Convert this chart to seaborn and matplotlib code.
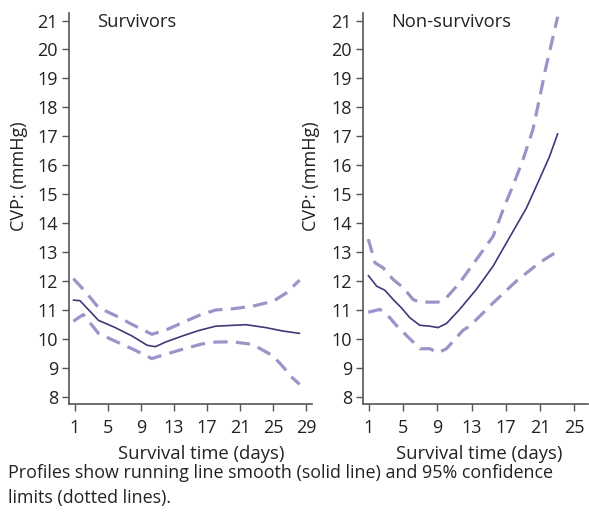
import matplotlib
matplotlib.use("Agg")
import matplotlib.pyplot as plt
import seaborn as sns
import pandas as pd

# Survivors
surv_mean_day = [0.8, 1.6, 3.84, 5.87, 7.9, 9.73, 10.74, 11.96, 14.0, 16.0, 18.05, 21.7, 24.1, 26.2, 28.2]
surv_mean_cvp = [11.34, 11.32, 10.64, 10.39, 10.1, 9.78, 9.73, 9.89, 10.1, 10.29, 10.44, 10.49, 10.39, 10.27, 10.19]
surv_up_day = [0.8, 2.2, 3.84, 5.87, 7.9, 10.3, 11.96, 14.0, 16.0, 18.05, 20.1, 22.5, 25.0, 26.6, 28.2]
surv_up_cvp = [12.08, 11.65, 11.08, 10.81, 10.5, 10.16, 10.3, 10.56, 10.81, 11.0, 11.04, 11.13, 11.3, 11.59, 12.03]
surv_lo_day = [0.8, 2.0, 3.84, 5.87, 7.9, 10.3, 12.0, 14.0, 16.3, 18.05, 20.1, 22.5, 25.0, 26.3, 27.3, 28.2]
surv_lo_cvp = [10.61, 10.84, 10.19, 9.92, 9.66, 9.32, 9.47, 9.64, 9.82, 9.89, 9.9, 9.81, 9.41, 9.0, 8.66, 8.43]

# Non-survivors
non_mean_day = [0.92, 1.9, 2.86, 3.83, 4.8, 5.78, 6.94, 8.1, 9.07, 10.05, 11.6, 13.55, 15.5, 17.4, 19.4, 20.9, 22.1, 23.06]
non_mean_cvp = [12.19, 11.82, 11.68, 11.36, 11.07, 10.73, 10.47, 10.44, 10.39, 10.53, 11.02, 11.71, 12.51, 13.49, 14.52, 15.5, 16.3, 17.09]
non_up_day = [0.92, 1.7, 2.67, 3.83, 5.0, 6.16, 6.94, 9.07, 10.05, 11.6, 13.55, 15.5, 16.85, 17.8, 19.0, 20.15, 20.9, 21.7, 23.06]
non_up_cvp = [13.45, 12.63, 12.45, 12.05, 11.77, 11.36, 11.27, 11.27, 11.42, 11.94, 12.74, 13.54, 14.6, 15.27, 16.19, 17.22, 18.26, 19.41, 21.13]
non_lo_day = [0.92, 2.28, 3.25, 4.22, 5.2, 6.17, 6.94, 8.1, 9.08, 10.05, 12.0, 12.77, 15.5, 18.2, 20.9, 23.06]
non_lo_cvp = [10.92, 11.02, 10.79, 10.46, 10.17, 9.89, 9.66, 9.66, 9.52, 9.66, 10.3, 10.44, 11.24, 11.99, 12.63, 13.03]

panel_titles = ["Survivors", "Non-survivors"]
y_ticks = list(range(8, 22))
x_ticks_surv = [1, 5, 9, 13, 17, 21, 25, 29]
x_ticks_non = [1, 5, 9, 13, 17, 21, 25]

sns.set_style("white")
plt.rcParams['font.family'] = ['Open Sans', 'DejaVu Sans']

mean_color = "#3c3a78"
ci_color = "#9b94c8"
axis_color = "#555555"
text_color = "#222222"

fig = plt.figure(figsize=(5.89, 5.27), dpi=100)
ax1 = fig.add_axes([69/589, 1-404/527, (312-69)/589, (404-13)/527])
ax2 = fig.add_axes([363/589, 1-404/527, (588-363)/589, (404-13)/527])

panels = [
    (ax1, (surv_mean_day, surv_mean_cvp), (surv_up_day, surv_up_cvp), (surv_lo_day, surv_lo_cvp),
     x_ticks_surv, (0.27, 29.7), 0.115, 0.545, -0.169),
    (ax2, (non_mean_day, non_mean_cvp), (non_up_day, non_up_cvp), (non_lo_day, non_lo_cvp),
     x_ticks_non, (0.3, 26.6), 0.124, 0.515, -0.191),
]

for i, (ax, m, u, l, xt, xl, tx, lx, ly) in enumerate(panels):
    for (xd, yd), col, lw, dash in [(u, ci_color, 2.3, (4.5, 2.6)), (l, ci_color, 2.3, (4.5, 2.6)), (m, mean_color, 1.2, None)]:
        df = pd.DataFrame({"day": xd, "cvp": yd})
        sns.lineplot(data=df, x="day", y="cvp", ax=ax, color=col, linewidth=lw, sort=False)
        if dash is not None:
            ax.lines[-1].set_dashes(dash)
    ax.set_xlim(*xl)
    ax.set_ylim(7.75, 21.26)
    ax.set_xticks(xt)
    ax.set_yticks(y_ticks)
    ax.tick_params(axis="both", direction="out", length=5, width=1, color=axis_color,
                   labelsize=13, labelcolor=text_color, left=True, bottom=True)
    ax.tick_params(axis="x", pad=6)
    ax.tick_params(axis="y", pad=3)
    for s in ["top", "right"]:
        ax.spines[s].set_visible(False)
    for s in ["left", "bottom"]:
        ax.spines[s].set_color(axis_color)
        ax.spines[s].set_linewidth(1.2)
    ax.set_xlabel("Survival time (days)", fontsize=13.3, color=text_color)
    ax.xaxis.set_label_coords(lx, -0.104)
    ax.set_ylabel("CVP: (mmHg)", fontsize=13, color=text_color)
    ax.yaxis.set_label_coords(ly, 0.583)
    ax.text(tx, 1.0, panel_titles[i], transform=ax.transAxes, fontsize=13.2,
            color=text_color, va="top", ha="left")

fig.text(8/589, 1-473/527, "Profiles show running line smooth (solid line) and 95% confidence",
         fontsize=12.9, color=text_color, va="center", ha="left")
fig.text(8/589, 1-498/527, "limits (dotted lines).",
         fontsize=12.9, color=text_color, va="center", ha="left")

fig.savefig("out.png", dpi=100)
